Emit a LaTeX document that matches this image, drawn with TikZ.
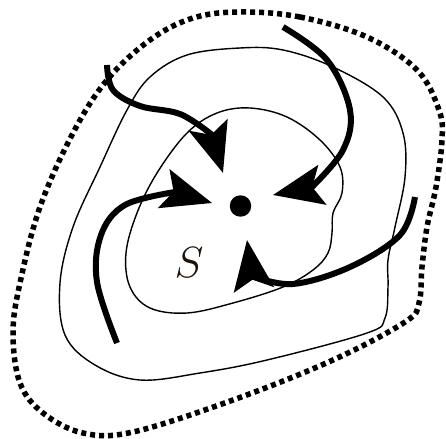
\documentclass[tikz,border=0pt]{standalone}
\usepackage{tikz}
\usetikzlibrary{arrows.meta}
\tikzset{
  flow/.style={line width=0.12cm,-{Stealth[length=1.0cm,width=0.8cm,inset=0.2cm]}},
  level/.style={line width=0.8pt},
  basin/.style={line width=0.11cm,dash pattern=on 0.1cm off 0.08cm},
}

\begin{document}
\begin{tikzpicture}[x=0.02cm,y=-0.02cm]
  \useasboundingbox (0,0) rectangle (446,439);
  % basin boundary
  \draw[basin] plot[smooth cycle,tension=0.6] coordinates {(240,12) (300,17) (367,37) (417,70) (439,110) (442,140) (436,187) (427,227) (422,267) (419,303) (405,322) (333,360) (233,400) (133,432) (83,433) (43,413) (20,383) (13,333) (20,283) (40,207) (73,133) (107,80) (150,40) (193,18)};
  % level sets
  \draw[level] plot[smooth cycle,tension=0.6] coordinates {(240,48) (283,50) (333,67) (383,97) (403,133) (405,177) (395,227) (388,260) (388,287) (385,318) (367,333) (267,360) (200,373) (140,380) (95,365) (65,335) (60,283) (73,227) (100,167) (127,110) (150,77) (187,55)};
  \draw[level] plot[smooth cycle,tension=0.6] coordinates {(250,108) (287,117) (320,140) (340,167) (342,193) (333,213) (332,233) (328,253) (313,270) (283,287) (233,303) (187,313) (150,308) (130,287) (126,253) (137,213) (157,173) (187,133) (217,113)};
  % equilibrium
  \node[circle,fill,inner sep=0pt,minimum size=0.43cm] (eq) at (240.5,206) {};
  \node[text=black!85!brown,font=\fontsize{28}{32}\selectfont] (lbl) at (189,263) {$S$};
  \coordinate (s1) at (107,65);   \coordinate (b1) at (211,134);  \coordinate (t1) at (223,173);
  \coordinate (s2) at (283,27);   \coordinate (b2) at (312,187);  \coordinate (t2) at (273,195);
  \coordinate (s3) at (117,343);  \coordinate (b3) at (175,192);  \coordinate (t3) at (212,203);
  \coordinate (s4) at (415,197);  \coordinate (b4) at (252,276);  \coordinate (t4) at (247,240);
  % trajectories
  \draw[flow] plot[smooth,tension=0.6] coordinates {(s1) (113,90) (140,106) (180,114) (b1)} -- (t1);
  \draw[flow] plot[smooth,tension=0.6] coordinates {(s2) (327,60) (350,110) (343,150) (b2)} -- (t2);
  \draw[flow] plot[smooth,tension=0.6] coordinates {(s3) (97,282) (101,235) (125,205) (b3)} -- (t3);
  \draw[flow] plot[smooth,tension=0.6] coordinates {(s4) (400,235) (350,267) (293,284) (b4)} -- (t4);
\end{tikzpicture}
\end{document}
